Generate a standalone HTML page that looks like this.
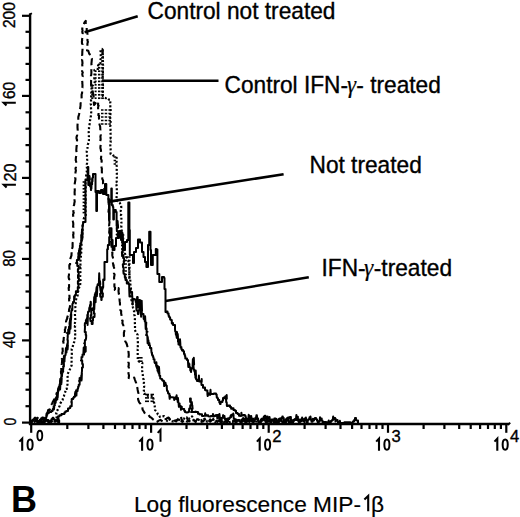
<!DOCTYPE html>
<html><head><meta charset="utf-8"><style>
html,body{margin:0;padding:0;background:#fff;width:520px;height:517px;overflow:hidden}
svg{display:block}
text{font-family:"Liberation Sans",sans-serif;fill:#000}
</style></head><body>
<svg width="520" height="517" viewBox="0 0 520 517">
<rect width="520" height="517" fill="#fff"/>
<line x1="30.1" y1="13.5" x2="30.1" y2="425.0" stroke="#000" stroke-width="2.4" />
<line x1="28.9" y1="424.0" x2="509.0" y2="424.0" stroke="#000" stroke-width="2.6" />
<line x1="29.6" y1="14.6" x2="31.9" y2="13.2" stroke="#000" stroke-width="1.8" />
<line x1="508.2" y1="424.8" x2="510.2" y2="422.6" stroke="#000" stroke-width="1.8" />
<line x1="22.0" y1="422.6" x2="30.1" y2="422.6" stroke="#000" stroke-width="2.2" />
<line x1="25.5" y1="406.2" x2="30.1" y2="406.2" stroke="#000" stroke-width="2.2" />
<line x1="25.5" y1="389.7" x2="30.1" y2="389.7" stroke="#000" stroke-width="2.2" />
<line x1="25.5" y1="373.3" x2="30.1" y2="373.3" stroke="#000" stroke-width="2.2" />
<line x1="25.5" y1="356.8" x2="30.1" y2="356.8" stroke="#000" stroke-width="2.2" />
<line x1="22.0" y1="340.4" x2="30.1" y2="340.4" stroke="#000" stroke-width="2.2" />
<line x1="25.5" y1="324.1" x2="30.1" y2="324.1" stroke="#000" stroke-width="2.2" />
<line x1="25.5" y1="307.8" x2="30.1" y2="307.8" stroke="#000" stroke-width="2.2" />
<line x1="25.5" y1="291.5" x2="30.1" y2="291.5" stroke="#000" stroke-width="2.2" />
<line x1="25.5" y1="275.2" x2="30.1" y2="275.2" stroke="#000" stroke-width="2.2" />
<line x1="22.0" y1="258.9" x2="30.1" y2="258.9" stroke="#000" stroke-width="2.2" />
<line x1="25.5" y1="242.7" x2="30.1" y2="242.7" stroke="#000" stroke-width="2.2" />
<line x1="25.5" y1="226.5" x2="30.1" y2="226.5" stroke="#000" stroke-width="2.2" />
<line x1="25.5" y1="210.3" x2="30.1" y2="210.3" stroke="#000" stroke-width="2.2" />
<line x1="25.5" y1="194.1" x2="30.1" y2="194.1" stroke="#000" stroke-width="2.2" />
<line x1="22.0" y1="177.9" x2="30.1" y2="177.9" stroke="#000" stroke-width="2.2" />
<line x1="25.5" y1="161.5" x2="30.1" y2="161.5" stroke="#000" stroke-width="2.2" />
<line x1="25.5" y1="145.1" x2="30.1" y2="145.1" stroke="#000" stroke-width="2.2" />
<line x1="25.5" y1="128.7" x2="30.1" y2="128.7" stroke="#000" stroke-width="2.2" />
<line x1="25.5" y1="112.3" x2="30.1" y2="112.3" stroke="#000" stroke-width="2.2" />
<line x1="22.0" y1="95.9" x2="30.1" y2="95.9" stroke="#000" stroke-width="2.2" />
<line x1="25.5" y1="79.9" x2="30.1" y2="79.9" stroke="#000" stroke-width="2.2" />
<line x1="25.5" y1="63.9" x2="30.1" y2="63.9" stroke="#000" stroke-width="2.2" />
<line x1="25.5" y1="47.8" x2="30.1" y2="47.8" stroke="#000" stroke-width="2.2" />
<line x1="25.5" y1="31.8" x2="30.1" y2="31.8" stroke="#000" stroke-width="2.2" />
<line x1="22.0" y1="15.8" x2="30.1" y2="15.8" stroke="#000" stroke-width="2.2" />
<line x1="31.2" y1="424.0" x2="31.2" y2="432.8" stroke="#000" stroke-width="2.2" />
<line x1="67.3" y1="424.0" x2="67.3" y2="429.0" stroke="#000" stroke-width="2.2" />
<line x1="88.4" y1="424.0" x2="88.4" y2="429.0" stroke="#000" stroke-width="2.2" />
<line x1="103.4" y1="424.0" x2="103.4" y2="429.0" stroke="#000" stroke-width="2.2" />
<line x1="115.0" y1="424.0" x2="115.0" y2="429.0" stroke="#000" stroke-width="2.2" />
<line x1="124.5" y1="424.0" x2="124.5" y2="429.0" stroke="#000" stroke-width="2.2" />
<line x1="132.5" y1="424.0" x2="132.5" y2="429.0" stroke="#000" stroke-width="2.2" />
<line x1="139.5" y1="424.0" x2="139.5" y2="429.0" stroke="#000" stroke-width="2.2" />
<line x1="145.6" y1="424.0" x2="145.6" y2="429.0" stroke="#000" stroke-width="2.2" />
<line x1="151.1" y1="424.0" x2="151.1" y2="432.8" stroke="#000" stroke-width="2.2" />
<line x1="186.5" y1="424.0" x2="186.5" y2="429.0" stroke="#000" stroke-width="2.2" />
<line x1="207.2" y1="424.0" x2="207.2" y2="429.0" stroke="#000" stroke-width="2.2" />
<line x1="221.9" y1="424.0" x2="221.9" y2="429.0" stroke="#000" stroke-width="2.2" />
<line x1="233.3" y1="424.0" x2="233.3" y2="429.0" stroke="#000" stroke-width="2.2" />
<line x1="242.6" y1="424.0" x2="242.6" y2="429.0" stroke="#000" stroke-width="2.2" />
<line x1="250.5" y1="424.0" x2="250.5" y2="429.0" stroke="#000" stroke-width="2.2" />
<line x1="257.3" y1="424.0" x2="257.3" y2="429.0" stroke="#000" stroke-width="2.2" />
<line x1="263.3" y1="424.0" x2="263.3" y2="429.0" stroke="#000" stroke-width="2.2" />
<line x1="268.7" y1="424.0" x2="268.7" y2="432.8" stroke="#000" stroke-width="2.2" />
<line x1="304.6" y1="424.0" x2="304.6" y2="429.0" stroke="#000" stroke-width="2.2" />
<line x1="325.6" y1="424.0" x2="325.6" y2="429.0" stroke="#000" stroke-width="2.2" />
<line x1="340.5" y1="424.0" x2="340.5" y2="429.0" stroke="#000" stroke-width="2.2" />
<line x1="352.1" y1="424.0" x2="352.1" y2="429.0" stroke="#000" stroke-width="2.2" />
<line x1="361.5" y1="424.0" x2="361.5" y2="429.0" stroke="#000" stroke-width="2.2" />
<line x1="369.5" y1="424.0" x2="369.5" y2="429.0" stroke="#000" stroke-width="2.2" />
<line x1="376.4" y1="424.0" x2="376.4" y2="429.0" stroke="#000" stroke-width="2.2" />
<line x1="382.5" y1="424.0" x2="382.5" y2="429.0" stroke="#000" stroke-width="2.2" />
<line x1="388.0" y1="424.0" x2="388.0" y2="432.8" stroke="#000" stroke-width="2.2" />
<line x1="423.6" y1="424.0" x2="423.6" y2="429.0" stroke="#000" stroke-width="2.2" />
<line x1="444.4" y1="424.0" x2="444.4" y2="429.0" stroke="#000" stroke-width="2.2" />
<line x1="459.2" y1="424.0" x2="459.2" y2="429.0" stroke="#000" stroke-width="2.2" />
<line x1="470.7" y1="424.0" x2="470.7" y2="429.0" stroke="#000" stroke-width="2.2" />
<line x1="480.1" y1="424.0" x2="480.1" y2="429.0" stroke="#000" stroke-width="2.2" />
<line x1="488.0" y1="424.0" x2="488.0" y2="429.0" stroke="#000" stroke-width="2.2" />
<line x1="494.8" y1="424.0" x2="494.8" y2="429.0" stroke="#000" stroke-width="2.2" />
<line x1="500.9" y1="424.0" x2="500.9" y2="429.0" stroke="#000" stroke-width="2.2" />
<line x1="506.3" y1="424.0" x2="506.3" y2="432.8" stroke="#000" stroke-width="2.2" />
<text transform="translate(15.44,28.08) rotate(-90) scale(0.973,1.030)" font-size="16" stroke="#000" stroke-width="0.35">200</text>
<text transform="translate(15.43,99.08) rotate(-90) scale(0.974,1.056)" font-size="16" stroke="#000" stroke-width="0.35">60</text>
<path d="M15.8,102.7 H3.7 L6.5,105.5" fill="none" stroke="#000" stroke-width="2.1"/>
<text transform="translate(15.53,181.61) rotate(-90) scale(1.017,1.056)" font-size="16" stroke="#000" stroke-width="0.35">20</text>
<path d="M15.9,184.8 H3.8 L6.6,187.6" fill="none" stroke="#000" stroke-width="2.1"/>
<text transform="translate(15.33,266.80) rotate(-90) scale(0.941,1.065)" font-size="16" stroke="#000" stroke-width="0.35">80</text>
<text transform="translate(15.33,348.31) rotate(-90) scale(0.958,1.065)" font-size="16" stroke="#000" stroke-width="0.35">40</text>
<text transform="translate(15.63,425.46) rotate(-90) scale(0.872,1.039)" font-size="16" stroke="#000" stroke-width="0.35">0</text>
<path d="M22.2,450.8 V438.6 L19.4,441.6" fill="none" stroke="#000" stroke-width="2.1" stroke-linejoin="miter"/>
<ellipse cx="30.1" cy="444.6" rx="2.55" ry="5.2" fill="none" stroke="#000" stroke-width="2.0"/>
<ellipse cx="39.8" cy="435.6" rx="2.45" ry="4.8" fill="none" stroke="#000" stroke-width="1.9"/>
<path d="M142.1,450.8 V438.6 L139.3,441.6" fill="none" stroke="#000" stroke-width="2.1" stroke-linejoin="miter"/>
<ellipse cx="150.0" cy="444.6" rx="2.55" ry="5.2" fill="none" stroke="#000" stroke-width="2.0"/>
<path d="M160.5,441.8 V429.9 L157.7,432.9" fill="none" stroke="#000" stroke-width="2.0" stroke-linejoin="miter"/>
<path d="M259.7,450.8 V438.6 L256.9,441.6" fill="none" stroke="#000" stroke-width="2.1" stroke-linejoin="miter"/>
<ellipse cx="267.6" cy="444.6" rx="2.55" ry="5.2" fill="none" stroke="#000" stroke-width="2.0"/>
<text x="272.3" y="442" font-size="16.6" stroke="#000" stroke-width="0.35">2</text>
<path d="M379.0,450.8 V438.6 L376.2,441.6" fill="none" stroke="#000" stroke-width="2.1" stroke-linejoin="miter"/>
<ellipse cx="386.9" cy="444.6" rx="2.55" ry="5.2" fill="none" stroke="#000" stroke-width="2.0"/>
<text x="391.6" y="442" font-size="16.6" stroke="#000" stroke-width="0.35">3</text>
<path d="M497.3,450.8 V438.6 L494.5,441.6" fill="none" stroke="#000" stroke-width="2.1" stroke-linejoin="miter"/>
<ellipse cx="505.2" cy="444.6" rx="2.55" ry="5.2" fill="none" stroke="#000" stroke-width="2.0"/>
<text x="509.9" y="442" font-size="16.6" stroke="#000" stroke-width="0.35">4</text>
<text transform="translate(147.5,19) scale(1,1.07)" font-size="22.7" stroke="#000" stroke-width="0.35" >Control not treated</text>
<text transform="translate(224.5,92.5) scale(1,1.07)" font-size="22.7" stroke="#000" stroke-width="0.35" >Control IFN-<tspan font-family="Liberation Serif" font-style="italic" stroke-width="0.2" x="122.6" font-size="23">γ</tspan><tspan x="131.8">- treated</tspan></text>
<text transform="translate(309.5,173) scale(1,1.07)" font-size="22.7" stroke="#000" stroke-width="0.35" >Not treated</text>
<text transform="translate(321.5,276) scale(1,1.07)" font-size="22.7" stroke="#000" stroke-width="0.35" >IFN-<tspan font-family="Liberation Serif" font-style="italic" stroke-width="0.2" x="42.6" font-size="23.5">γ</tspan><tspan x="52.3">-treated</tspan></text>
<text transform="translate(134,511.5) scale(1,1.0)" font-size="22.7" stroke="#000" stroke-width="0.2" >Log fluorescence MIP-</text>
<path d="M368.2,511.3 V495.9 L364.4,499.6" fill="none" stroke="#000" stroke-width="2.1"/>
<text transform="translate(370.9,511.5) scale(1,1.0)" font-size="22.7" stroke="#000" stroke-width="0.2" >β</text>
<text x="11.1" y="512.4" font-size="36" font-weight="bold">B</text>
<line x1="84.6" y1="32.3" x2="137.7" y2="16.3" stroke="#000" stroke-width="2.6" />
<line x1="101.8" y1="80.8" x2="218.5" y2="80.8" stroke="#000" stroke-width="2.4" />
<line x1="109.3" y1="201.6" x2="283.6" y2="174.2" stroke="#000" stroke-width="2.6" />
<line x1="165.5" y1="301.0" x2="308.8" y2="277.2" stroke="#000" stroke-width="2.6" />
<polyline points="30.5,422.6 31.2,422.6 31.2,421.7 32.3,421.7 32.3,420.0 33.7,420.0 33.7,419.1 34.6,419.1 34.6,417.8 35.9,417.8 35.9,419.6 37.1,419.6 37.1,420.6 37.4,422.2 37.7,420.8 38.0,422.0 39.3,422.0 39.3,421.0 40.4,421.0 40.4,420.5 41.2,420.5 41.2,418.3 42.3,418.3 42.3,417.6 43.1,417.6 43.1,419.3 43.7,419.3 43.7,421.1 44.0,423.3 44.3,420.6 44.2,422.0 44.9,422.0 44.9,421.1 45.5,421.1 45.5,418.4 45.8,417.9 46.3,417.9 46.3,415.3 46.6,413.5 46.9,416.0 47.0,414.4 47.4,414.4 47.4,413.0 49.0,413.0 49.0,412.2 50.1,412.1 51.3,412.1 51.3,411.0 52.6,411.0 52.6,409.6 53.0,409.6 53.0,408.8 53.6,408.8 53.6,406.4 53.9,409.5 54.2,407.2 54.3,405.1 54.6,400.6 54.9,405.2 54.4,405.2 54.4,403.6 55.1,403.6 55.1,401.8 55.4,398.4 55.7,402.6 55.6,401.0 56.0,401.0 56.0,399.0 56.1,397.3 56.9,397.3 56.9,395.4 57.0,395.4 57.3,399.5 57.6,395.4 57.4,393.9 57.7,397.4 58.0,392.2 57.9,390.4 58.2,388.3 58.5,391.0 58.2,390.0 58.4,389.5 58.7,387.0 59.2,387.0 59.2,386.1 59.8,386.1 59.8,384.3 60.1,389.4 60.4,384.1 60.2,381.7 60.2,381.3 60.5,379.9 61.1,379.9 61.1,377.2 61.4,383.9 61.7,378.7 61.4,375.5 61.7,372.9 62.0,376.2 62.0,375.0 62.2,373.6 62.6,372.2 62.9,368.4 63.2,371.6 62.9,371.2 63.0,370.7 63.4,367.4 63.1,366.4 63.9,366.4 63.9,363.4 63.6,364.2 63.9,356.1 64.2,361.9 63.8,361.4 64.5,361.4 64.5,359.9 64.6,358.9 64.8,357.0 64.8,356.8 65.2,354.9 65.6,354.9 65.6,353.4 65.9,348.4 66.2,352.0 65.7,352.0 65.7,352.4 66.5,352.4 66.5,349.8 66.3,347.4 67.0,347.4 67.0,345.0 67.3,344.5 67.6,349.4 67.9,345.1 67.4,345.1 67.4,343.5 67.8,343.5 67.8,340.0 67.4,340.0 67.8,336.6 67.6,336.6 68.0,333.1 66.9,333.1 68.2,333.1 68.2,329.6 69.0,329.6 69.0,326.7 69.3,333.5 69.6,329.3 69.7,324.6 69.5,324.0 69.7,321.9 69.9,321.7 70.2,318.5 70.5,328.7 70.8,320.5 70.7,318.1 70.8,317.0 70.7,314.7 71.0,319.9 71.3,314.7 71.1,313.6 71.4,310.7 71.6,311.2 71.9,309.0 72.3,310.1 72.4,306.9 72.4,304.0 72.6,303.5 73.0,303.5 73.0,301.9 73.5,302.1 74.1,302.1 74.1,296.2 74.7,296.2 74.7,297.3 75.0,295.0 75.9,295.0 75.9,291.2 76.8,291.2 76.8,292.1 77.8,292.1 77.8,290.0 77.8,287.0 78.5,287.0 78.5,284.0 77.9,284.0 77.9,281.0 78.9,281.0 78.9,278.0 78.0,278.0 78.0,275.0 78.7,275.0 78.7,272.0 77.9,272.0 77.9,269.0 78.7,269.0 78.7,266.0 77.3,266.0 77.3,263.0 76.0,263.0 76.9,263.0 76.9,260.0 77.8,260.0 78.2,260.0 78.2,256.5 78.6,257.8 78.3,253.0 79.0,253.0 79.0,251.5 79.0,250.6 79.3,259.4 79.6,252.0 79.3,250.0 79.5,248.5 80.1,248.5 80.1,248.0 79.9,245.7 80.2,254.8 80.5,244.5 80.2,243.9 80.6,243.9 80.6,243.3 80.6,242.9 81.3,242.9 81.3,236.1 81.3,237.0 81.2,235.1 81.8,235.1 81.8,232.2 82.1,240.0 82.4,234.8 81.9,234.8 81.9,231.8 82.0,229.4 82.3,239.4 82.6,232.7 82.4,231.3 82.6,227.7 82.8,224.5 82.6,225.5 82.9,225.4 83.2,222.0 85.5,222.0 85.5,180.0 87.5,180.0 87.8,167.0 88.3,167.0 88.3,185.0 89.5,185.0 89.5,176.0 89.9,179.5 88.9,179.5 89.2,183.0 89.7,183.0 90.1,186.5 90.4,186.5 90.9,186.5 90.9,190.0 91.0,190.0 91.2,188.7 91.4,188.7 91.6,182.2 91.7,184.2 92.1,184.2 92.1,183.6 92.1,178.7 92.5,181.3 92.5,177.8 93.0,177.8 93.0,174.2 93.0,174.0 95.0,174.0 95.5,174.0 95.5,192.0 96.3,192.0 96.3,211.0 97.0,211.0 97.0,191.0 99.0,191.0 99.0,193.0 101.0,193.0 101.0,190.0 103.0,190.0 103.0,194.0 105.0,194.0 105.0,184.0 106.3,184.0 106.3,195.0 108.4,195.0 108.4,199.0 109.0,199.0 109.0,219.5 109.6,219.5 109.6,201.0 110.8,201.0 110.8,200.0 111.3,200.0 111.3,188.5 111.8,188.5 111.8,205.0 112.8,205.0 112.8,207.0 113.3,207.0 113.3,219.5 113.9,219.5 113.9,210.0 115.8,210.0 115.8,212.0 116.6,212.0 116.6,226.0 117.0,224.1 117.1,224.0 117.6,224.0 117.6,221.0 117.8,224.4 117.9,224.4 118.1,227.8 116.7,227.8 116.9,231.2 118.0,231.2 118.2,234.6 116.6,234.6 117.7,234.6 117.7,238.0 118.6,238.0 119.0,237.9 119.2,233.9 119.1,230.9 119.6,231.0 121.7,231.0 121.7,232.0 121.7,235.6 122.4,235.6 122.4,232.7 122.3,234.2 122.9,234.2 122.9,238.9 123.0,240.0 123.2,243.0 122.5,243.0 122.7,246.0 122.9,246.0 123.0,249.0 122.5,249.0 122.7,252.0 121.9,252.0 122.1,255.0 122.0,255.0 123.1,255.0 123.1,258.0 124.0,258.0 124.3,261.1 123.7,261.1 124.0,264.3 122.8,264.3 123.1,267.4 123.5,267.4 123.8,270.6 123.3,270.6 123.6,273.7 124.6,273.7 124.9,276.9 124.7,276.9 125.5,276.9 125.5,280.0 126.0,280.0 126.8,280.0 126.8,283.5 127.2,283.5 127.2,282.3 128.1,282.3 128.1,282.7 128.5,282.7 128.5,283.9 129.2,283.9 129.2,288.7 129.5,296.5 129.8,288.8 130.0,289.7 130.4,289.7 130.4,291.9 131.0,292.0 131.5,292.1 132.1,292.1 132.1,294.9 132.3,296.4 132.6,304.4 132.9,298.7 133.0,299.0 134.3,299.0 134.3,299.6 135.7,299.6 135.7,302.0 136.1,302.2 137.1,302.2 137.1,296.9 137.4,307.6 137.7,297.2 137.5,297.0 137.7,300.4 136.7,300.4 136.9,303.8 136.1,303.8 136.3,307.2 136.3,307.2 136.5,310.6 137.2,310.6 137.9,310.6 137.9,314.0 138.5,314.0 138.9,310.5 139.2,310.5 139.6,307.0 138.7,307.0 139.0,303.5 138.0,303.5 139.2,303.5 139.2,300.0 140.0,300.0 140.1,303.2 140.4,309.1 140.7,301.7 140.6,302.7 140.9,305.9 140.6,305.8 140.8,308.8 141.1,316.7 141.4,308.8 141.4,310.7 141.7,300.8 142.0,310.8 141.4,310.5 141.8,310.5 141.8,313.7 141.8,314.0 143.5,314.0 143.5,316.0 143.7,318.9 144.1,318.9 144.1,319.5 144.8,319.5 144.8,321.6 145.1,316.2 145.4,321.7 145.4,322.1 145.7,328.9 146.0,323.3 145.7,322.4 146.0,327.8 146.3,322.5 146.0,325.0 146.0,328.3 146.6,328.3 146.6,331.7 147.5,331.7 146.7,331.7 146.7,335.0 146.0,335.0 147.0,335.0 147.0,335.5 147.3,336.0 147.6,343.2 147.9,338.1 147.6,336.9 148.0,341.0 148.4,341.0 148.4,340.2 148.8,345.1 149.4,345.1 149.4,343.0 149.6,345.4 150.0,345.4 150.0,348.0 150.5,347.9 151.3,347.9 151.3,350.4 151.6,352.8 152.0,352.8 152.0,355.0 152.6,355.0 152.6,356.0 153.1,356.0 153.1,357.3 153.5,357.3 153.5,359.2 154.5,359.2 154.5,362.2 154.8,363.0 155.4,363.3 156.1,363.3 156.1,366.1 156.4,362.3 156.7,367.3 157.0,368.0 157.5,368.0 157.5,370.8 157.8,366.1 158.1,369.4 158.1,372.1 158.7,372.1 158.7,373.5 159.0,366.9 159.3,372.3 158.8,372.6 159.4,372.6 159.4,375.7 160.2,375.7 160.2,378.6 161.3,378.9 162.0,378.9 162.0,380.0 162.6,380.0 162.6,380.8 163.9,380.8 163.9,382.1 164.2,386.1 164.5,382.0 164.5,383.0 165.6,383.0 165.6,385.0 166.2,385.0 166.2,385.7 166.8,385.7 166.8,388.2 167.1,390.9 167.9,391.2 168.1,393.3 168.7,393.3 168.7,393.8 169.4,393.8 169.4,396.3 169.7,398.8 170.0,395.4 170.0,397.0 172.1,397.2 173.9,397.5 174.2,400.0 174.5,397.8 175.8,397.8 175.8,397.0 176.3,397.0 176.3,399.3 176.6,395.3 176.9,398.0 177.1,399.2 177.7,399.2 177.7,402.0 178.0,398.1 178.3,402.3 178.6,403.3 178.9,406.8 179.2,403.5 178.8,403.4 179.6,403.4 179.6,406.0 180.7,406.0 180.7,407.2 181.0,409.8 181.3,406.8 181.8,406.8 181.8,408.7 182.6,408.9 184.2,408.9 184.2,410.7 185.0,410.7 185.0,412.0 186.9,412.4 189.0,412.0 189.2,408.6 190.1,408.6 190.3,405.2 191.1,405.2 191.4,401.9 191.3,401.9 190.8,401.9 190.8,398.5 190.0,398.5 190.2,401.9 191.8,401.9 192.1,405.2 192.3,405.2 192.6,408.6 192.6,408.6 191.9,408.6 191.9,412.0 191.0,412.0 192.4,412.1 194.2,412.0 195.5,412.0 195.5,411.6 197.0,412.0 198.0,412.0 198.0,413.8 199.6,413.8 199.6,414.5 200.6,414.2 202.0,414.2 202.0,416.0 203.3,416.0 204.9,415.6 205.2,413.3 205.5,415.7 206.4,415.7 206.4,415.2 208.2,415.2 208.2,416.3 209.7,416.5 210.8,416.5 210.8,416.1 212.7,416.1 213.0,414.0 213.3,416.6 214.0,416.6 214.0,416.0 215.3,416.0 215.3,415.3 217.0,415.1 217.3,418.5 217.6,415.1 218.7,414.9 219.1,416.1 219.4,413.9 219.7,416.1 219.2,416.1 219.2,418.3 220.0,418.3 220.0,419.7 220.3,417.5 220.6,419.1 220.0,419.1 220.0,420.5 220.3,418.7 220.6,421.3 220.4,422.2 221.3,422.2 221.3,420.5 221.7,420.5 221.7,419.0 222.0,417.7 222.9,417.7 222.9,416.3 223.2,415.1 223.6,415.9 224.5,415.9 224.5,418.4 225.0,418.4 225.0,419.2 225.8,419.2 225.8,420.5 226.2,420.5 226.2,422.5 227.2,422.5 227.2,421.7 228.0,421.7 228.0,419.3 229.2,419.3 229.2,417.8 230.4,417.8 230.4,417.2 230.7,415.4 231.0,417.1 231.1,415.1 232.1,415.1 232.1,414.4 233.0,414.4 233.0,415.9 233.3,413.6 233.6,415.4 233.5,416.6 233.8,418.7 234.7,418.7 234.7,419.9 235.0,421.9 236.5,421.9 236.5,420.8 238.0,420.8 238.0,420.1 239.4,420.1 239.4,421.3 240.6,421.3 240.6,422.5 241.7,422.5 241.7,421.6 242.8,421.6 242.8,419.7 243.8,419.7 243.8,419.0 244.8,419.0 244.8,420.4 245.1,422.2 245.4,420.8 245.4,422.0 246.6,422.0 246.6,420.1 247.4,420.1 247.4,419.1 248.4,419.1 248.4,417.9 248.7,414.8 249.0,417.0 249.4,417.0 249.4,415.9 249.9,415.9 249.9,417.4 250.2,420.4 250.5,417.7 250.9,417.7 250.9,418.9 251.2,415.9 251.5,418.9 251.5,419.8 252.0,419.8 252.0,421.8 253.0,421.8 253.0,420.9 253.3,423.2 253.6,421.0 254.3,421.0 254.3,419.7 255.2,419.7 255.2,417.9 256.3,417.9 256.3,417.1 257.1,417.1 257.1,419.0 257.9,419.0 257.9,420.5 258.7,420.5 258.7,422.3 260.0,422.3 260.0,421.6 260.9,421.6 260.9,419.8 262.1,419.8 262.1,418.4 263.8,418.4 263.8,416.5 264.1,420.2 264.4,416.9 264.7,415.7 265.4,415.7 265.4,416.5 266.1,416.5 266.1,419.1 267.3,419.1 267.3,419.9 268.0,419.9 268.0,421.8 269.8,421.8 269.8,420.6 271.6,420.6 271.6,419.6 272.9,419.6 272.9,420.8 273.7,420.8 273.7,422.5 275.3,422.5 275.3,421.0 276.2,421.0 276.2,420.1 277.5,420.4 278.9,420.4 278.9,419.0 280.0,419.0 280.0,420.0 281.0,420.0 281.0,420.9 282.1,420.9 282.1,422.1 283.5,422.1 283.5,421.5 283.8,422.9 284.1,421.5 284.5,420.4 285.8,420.4 285.8,419.3 286.9,419.3 286.9,418.2 287.2,420.2 287.5,417.8 288.0,417.8 288.0,417.4 288.6,417.4 288.6,418.7 288.7,420.8 289.0,422.8 289.3,420.9 289.5,422.3 290.8,422.0 291.1,420.1 291.4,421.4 292.5,421.3 293.5,421.3 293.5,419.8 295.2,419.8 295.2,419.1 296.1,419.1 296.1,419.9 297.7,419.9 297.7,420.5 298.7,420.5 298.7,422.1 300.1,422.1 300.1,419.8 301.5,419.8 301.5,418.9 302.3,418.9 302.3,419.3 303.5,419.3 303.5,421.2 304.6,421.2 304.6,422.3" fill="none" stroke="#000" stroke-width="2.0" stroke-linejoin="round" stroke-linecap="square"/>
<polyline points="30.5,422.6 31.7,422.6 31.7,420.7 33.3,420.7 33.3,419.4 35.2,419.4 35.2,420.1 36.8,420.1 36.8,421.7 38.1,421.7 38.1,421.0 39.7,421.0 39.7,419.8 40.5,419.8 40.5,421.6 41.5,421.6 41.5,422.5 43.1,422.5 43.1,421.5 44.8,421.5 44.8,420.9 45.1,418.5 45.4,420.3 46.7,420.1 48.2,420.1 48.2,421.3 49.4,421.3 49.4,422.1 50.2,422.1 50.2,420.7 51.4,420.7 51.4,419.3 51.7,421.0 52.0,418.7 52.6,418.7 52.6,417.7 53.4,417.7 53.4,419.1 54.4,419.1 54.4,421.8 55.7,421.8 55.7,420.4 57.3,420.4 57.3,419.0 58.1,419.0 58.1,421.0 58.4,422.3 58.7,420.5 59.2,420.5 59.2,422.3 58.9,420.7 58.5,418.4 57.8,418.4 57.8,416.5 59.4,416.5 59.4,415.3 61.5,415.3 61.5,414.1 63.0,414.0 64.4,414.0 64.4,412.6 65.3,412.6 65.3,411.6 66.5,411.6 66.5,411.0 68.0,411.0 68.0,408.6 69.3,408.6 69.3,408.0 70.2,408.0 70.2,406.2 71.7,406.2 71.7,405.0 71.8,402.0 71.2,402.0 71.7,402.0 71.7,399.0 72.0,399.0 73.2,399.0 73.2,397.7 73.9,397.7 73.9,396.7 75.0,396.7 75.0,394.0 75.4,391.8 76.1,391.8 76.1,390.2 76.4,395.6 76.7,390.2 76.9,391.0 77.6,391.0 77.6,388.8 78.1,388.8 78.1,386.8 78.7,386.8 78.7,384.8 79.6,384.8 79.6,384.0 79.8,381.0 79.0,381.0 79.6,381.0 79.6,378.0 80.0,378.0 80.3,377.6 81.3,377.6 81.3,375.2 81.6,380.4 81.9,373.4 81.7,373.4 82.0,371.0 82.0,367.5 82.9,367.5 82.9,364.0 82.2,364.0 82.2,360.5 80.9,360.5 81.5,360.5 81.5,357.0 82.0,357.0 82.5,357.0 82.5,354.5 83.4,354.5 83.4,353.2 83.7,347.5 84.0,354.6 84.2,352.3 84.8,352.3 84.8,351.5 85.7,351.5 85.7,350.0 85.7,346.7 84.9,346.7 84.9,343.3 84.1,343.3 84.9,343.3 84.9,340.0 85.7,340.0 86.1,338.0 86.2,335.0 85.7,335.0 85.8,332.0 84.7,332.0 84.9,329.0 84.9,329.0 85.0,326.0 84.8,326.0 84.9,323.0 84.9,323.0 85.9,323.0 85.9,320.0 86.8,320.0 86.8,318.2 87.1,323.2 87.4,319.3 87.3,315.2 87.6,325.0 87.9,315.9 87.5,314.7 87.9,314.6 88.0,312.0 88.4,311.4 89.2,311.4 89.2,308.8 89.5,307.3 90.0,307.3 90.0,305.0 90.6,305.0 90.6,301.8 90.8,302.0 90.9,305.3 90.5,305.3 90.7,308.7 91.2,308.7 91.3,312.0 91.2,312.0 91.5,315.0 90.7,315.0 91.0,318.0 90.1,318.0 90.5,321.0 90.5,321.0 91.7,321.0 91.7,324.0 92.6,324.0 92.7,320.5 93.0,320.5 93.1,317.0 94.5,317.0 94.6,313.5 94.7,313.5 93.9,313.5 93.9,310.0 93.0,310.0 93.0,308.1 93.5,308.1 93.5,309.0 93.9,309.0 93.9,304.4 94.2,297.0 94.5,305.0 93.8,305.0 93.8,303.6 94.2,303.6 94.2,304.1 94.0,302.3 94.3,309.3 94.6,300.2 94.3,300.7 94.9,300.7 94.9,298.9 94.8,294.8 95.0,295.0 95.3,293.1 95.6,302.3 95.9,292.0 96.2,292.0 96.4,289.1 96.7,287.0 97.0,295.9 97.3,286.4 97.7,284.3 98.0,285.0 98.9,285.0 98.9,282.6 99.2,273.2 99.5,281.2 100.0,281.0 100.3,284.2 99.8,284.2 100.1,287.3 100.2,287.3 100.5,290.5 100.7,290.5 101.0,293.7 100.1,293.7 100.3,296.8 100.7,296.8 101.3,296.8 101.3,300.0 101.6,300.0 101.7,296.7 102.8,296.7 102.9,293.3 102.1,293.3 102.1,290.0 102.0,290.0 102.1,287.1 102.8,287.1 102.8,288.8 102.6,287.2 103.2,287.2 103.2,282.2 103.2,279.5 103.8,279.5 103.8,280.0 104.5,280.0 104.5,262.0 107.2,262.0 107.2,249.3 107.9,249.3 107.9,245.0 109.2,245.0 109.2,237.0 110.0,237.0 110.0,233.0 109.4,233.0 109.4,228.3 111.5,228.3 111.5,240.0 112.6,240.0 112.6,250.0 114.5,250.0 114.5,246.0 116.0,246.0 116.0,238.0 118.7,238.0 118.7,233.0 121.0,233.0 121.0,240.0 123.0,240.0 123.0,250.0 125.0,250.0 125.0,242.0 127.0,242.0 127.0,240.0 128.3,240.0 128.3,202.5 129.4,202.5 129.4,230.0 129.8,230.0 129.8,255.0 131.0,255.0 133.0,255.0 133.0,263.0 134.0,263.0 134.0,252.0 136.0,252.0 136.0,248.0 138.0,248.0 138.0,239.5 140.0,239.5 140.0,242.6 142.0,242.6 142.0,252.0 143.5,252.0 143.5,257.0 145.0,257.0 145.0,262.0 146.4,262.0 146.4,267.0 148.0,267.0 148.0,245.0 149.2,245.0 149.2,231.8 150.5,231.8 150.5,250.0 151.0,250.0 151.0,265.0 152.8,265.0 152.8,255.0 155.8,255.0 155.8,249.0 156.5,249.0 156.5,249.6 157.4,249.6 157.4,274.0 159.3,274.0 159.3,282.0 162.0,282.0 162.0,277.0 164.0,277.0 164.0,278.0 164.5,278.0 164.5,289.0 165.5,289.0 165.5,312.0 166.5,312.0 166.5,311.4 167.5,311.4 167.5,313.6 168.6,313.6 168.6,316.0 169.2,316.0 169.2,317.3 170.1,317.3 170.1,319.4 171.0,319.4 171.0,320.0 171.8,320.0 171.8,323.5 172.3,323.5 172.3,322.9 173.0,322.9 173.0,325.0 174.2,324.9 175.0,324.9 175.0,329.0 175.2,331.5 175.8,331.5 175.8,334.2 176.2,334.2 176.2,333.0 176.2,335.7 176.7,335.7 176.7,337.7 177.0,332.1 177.3,337.1 177.4,338.1 177.7,333.9 178.0,337.5 177.3,337.5 177.3,338.3 178.0,338.3 178.0,341.7 178.5,341.7 178.5,344.4 179.7,344.4 179.7,345.1 180.0,339.2 180.3,343.1 180.5,347.5 181.0,347.5 181.0,347.0 181.4,347.0 181.4,349.2 182.0,349.2 182.0,350.5 183.1,350.5 183.1,350.0 183.3,351.3 184.0,351.3 184.0,354.0 184.8,354.0 184.8,356.0 185.3,356.0 185.3,358.4 186.5,358.5 187.0,358.5 187.0,360.0 188.0,360.0 188.0,361.9 188.3,367.0 188.6,362.9 189.0,364.0 189.4,364.0 189.4,365.7 189.5,367.3 190.2,367.3 190.3,370.5 191.0,370.5 191.0,372.0 191.2,370.7 191.5,368.8 191.7,367.9 192.6,367.9 192.6,365.7 192.9,359.0 193.2,366.5 192.9,363.7 193.0,362.0 193.5,362.0 193.5,362.9 193.8,357.7 194.1,364.5 193.5,364.5 193.5,366.5 193.6,367.4 193.7,369.5 194.2,369.5 194.2,371.1 194.7,371.1 194.7,371.9 195.0,372.2 195.0,375.0 195.4,375.0 195.4,377.7 195.7,370.4 196.0,375.8 195.9,378.4 196.2,379.4 197.0,379.4 197.0,381.0 198.6,381.0 198.6,379.9 198.9,375.6 199.2,381.5 200.4,381.2 201.7,381.2 201.7,379.0 201.7,382.0 201.3,382.0 201.5,385.0 201.7,385.0 203.0,385.0 203.0,387.7 204.2,387.5 205.0,387.5 205.0,390.0 206.0,390.0 206.0,390.6 207.4,390.6 207.4,394.0 207.7,396.1 208.0,393.3 208.5,393.3 208.5,394.6 210.2,394.8 210.5,389.8 210.8,394.0 212.0,394.0 213.9,394.0 213.9,393.4 216.0,393.4 216.0,394.6 216.7,394.6 216.7,397.2 217.3,397.2 217.3,398.2 218.0,398.2 218.0,400.0 219.3,400.0 219.3,402.5 220.0,402.5 220.0,404.0 220.6,404.0 220.6,402.0 221.7,401.9 222.4,401.9 222.4,400.6 223.0,400.6 223.0,398.0 224.2,398.0 224.2,397.3 225.4,397.3 225.4,396.2 225.7,399.5 226.0,396.3 226.7,396.3 226.7,395.0 226.8,398.7 226.1,398.7 226.2,402.3 226.7,402.3 226.9,406.0 227.0,406.0 228.2,406.0 228.2,405.4 230.0,405.4 230.0,407.0 231.1,407.0 231.1,408.8 232.3,408.8 232.3,408.2 233.5,408.2 233.5,410.0 235.0,410.0 235.0,410.7 236.0,410.7 236.0,413.0 237.6,413.0 237.6,413.9 239.0,413.9 239.0,415.8 241.1,416.0 241.4,412.7 241.7,415.5 243.2,415.5 243.2,414.9 244.9,414.9 244.9,415.7 245.5,415.7 245.5,416.9 245.9,416.9 245.9,418.9 246.6,418.9 246.6,420.8 247.0,420.8 247.0,421.5 248.4,421.5 248.4,420.9 249.3,420.9 249.3,420.0 250.3,420.0 250.3,418.2 251.1,418.2 251.1,419.2 252.6,419.2 252.6,421.0 252.9,418.5 253.2,420.6 253.6,420.6 253.6,421.8 254.0,421.8 254.0,419.5 255.3,419.5 255.3,419.0 256.0,419.0 256.0,417.6 256.4,417.6 256.4,415.2 256.9,415.2 256.9,416.8 257.2,418.5 258.1,418.5 258.1,420.0 258.4,422.3 259.6,422.0 261.1,422.0 261.1,420.2 261.4,419.0 261.7,420.7 262.3,420.7 262.3,419.4 263.6,419.4 263.6,418.7 264.5,418.7 264.5,420.6 265.7,420.6 265.7,422.5 266.9,422.5 266.9,420.4 267.3,420.4 267.3,419.3 267.6,416.5 267.9,418.8 268.5,418.8 268.5,417.6 269.2,417.6 269.2,418.4 269.5,416.9 269.8,418.6 270.0,420.8 270.5,420.8 270.5,421.9 271.6,421.9 271.6,420.1 272.8,420.2 274.3,420.2 274.3,418.4 275.6,418.4 275.6,418.9 276.6,418.9 276.6,421.0 276.9,422.9 277.2,420.7 277.8,420.7 277.8,422.0 279.2,422.0 279.2,420.7 279.5,418.5 279.8,421.1 280.0,419.7 281.1,419.7 281.1,417.9 282.3,417.9 282.3,416.6 282.8,416.6 282.8,418.0 283.3,418.0 283.3,419.4 283.6,417.8 283.9,419.3 284.0,421.3 284.2,422.4 285.1,422.4 285.1,421.9 286.5,421.9 286.5,420.6 287.6,420.6 287.6,418.6 288.9,418.6 288.9,417.7 289.9,417.7 289.9,417.0 290.9,417.0 290.9,419.3 291.1,420.0 291.9,420.0 291.9,422.4 292.8,422.4 292.8,420.8 293.1,422.7 293.4,421.0 293.8,421.0 293.8,420.0 295.2,420.0 295.2,418.7 296.1,418.7 296.1,417.7 296.4,414.9 296.7,417.7 297.0,416.8 297.9,416.8 297.9,418.6 298.0,419.2 298.9,419.2 298.9,421.5 300.4,421.3 301.8,421.3 301.8,419.3 302.1,417.6 302.4,420.2 303.1,419.9 304.5,419.9 304.5,418.4 305.6,418.4 305.6,420.0 305.9,417.6 306.2,419.6 306.1,420.6 306.9,420.6 306.9,422.5 307.7,422.5 307.7,420.1 308.4,420.1 308.4,419.2 309.5,419.2 309.5,417.2 310.2,417.2 310.2,419.0 310.5,416.5 310.8,418.9 310.6,419.7 311.5,419.7 311.5,421.8 312.6,421.8 312.6,420.2 312.9,418.8 313.2,420.4 314.0,420.4 314.0,418.7 314.9,418.7 314.9,417.9 316.0,417.9 316.0,419.2 317.0,419.2 317.0,420.8 317.7,420.8 317.7,422.2 318.8,422.2 318.8,421.4 319.7,421.4 319.7,419.6 320.0,417.3 320.3,420.1 320.8,420.1 320.8,418.5 321.7,418.5 321.7,420.5 322.5,420.5 322.5,422.3 323.9,422.0 325.6,421.9 327.0,422.3 328.4,422.3 328.7,420.4 329.0,422.3 330.0,422.6 330.8,422.6 330.8,420.9 331.8,420.9 331.8,420.3 332.9,420.3 332.9,418.7 333.2,416.5 333.5,418.9 334.0,418.9 334.0,418.0 335.2,418.0 335.2,419.2 335.5,421.5 335.8,418.9 335.8,420.7 337.2,420.7 337.2,421.1 337.5,419.9 337.8,421.5 338.0,422.6 339.6,423.0 339.9,420.8 340.2,423.0 341.2,423.1 342.8,423.0 344.4,423.0 344.4,422.3 345.5,422.3 347.2,422.2 348.9,422.3 350.3,422.3 350.3,423.0 352.0,423.0 352.0,422.6 352.8,422.6 352.8,421.5 354.1,421.5 354.1,419.9 355.0,419.9 355.0,418.0 356.0,418.0 356.0,420.2 357.2,420.5 358.0,420.5 358.0,422.6" fill="none" stroke="#000" stroke-width="2.0" stroke-linejoin="round" stroke-linecap="square"/>
<polyline points="34.0,422.6 35.5,421.0 36.5,419.4 37.3,418.3 38.5,417.2 39.6,419.8 40.3,420.7 41.2,422.3 43.0,421.0 45.4,419.9 47.0,419.9 48.5,422.3 47.7,421.2 45.8,420.2 45.0,418.0 45.4,416.7 46.1,416.1 47.0,414.4 47.5,412.5 48.3,409.8 49.4,410.3 50.2,408.6 51.0,406.4 51.1,405.0 52.2,403.5 52.9,401.7 54.0,399.8 55.0,398.0 55.4,396.8 56.3,394.8 56.6,393.2 57.7,392.5 58.3,390.0 58.6,387.6 58.7,386.3 59.4,385.9 59.9,384.2 60.1,382.4 60.4,379.0 60.4,378.5 60.8,376.9 61.0,375.0 61.2,374.2 60.9,371.7 61.7,369.1 61.1,369.1 61.9,365.7 61.3,365.7 61.9,363.4 62.0,362.2 62.2,359.0 61.8,358.9 62.6,357.3 62.3,354.7 62.3,352.4 62.8,351.2 62.7,350.1 62.6,348.7 62.9,346.1 63.0,345.0 63.5,342.8 63.1,341.3 63.6,340.8 63.7,338.1 64.0,337.0 64.4,334.8 64.5,333.1 65.1,331.3 64.8,329.8 65.1,329.0 65.6,327.4 65.8,324.3 66.2,322.9 66.0,321.5 66.5,320.0 67.3,318.2 67.2,317.7 68.1,315.1 67.8,314.4 68.7,311.9 69.1,310.4 69.1,309.3 69.8,307.5 70.0,306.0 70.1,303.3 69.7,302.3 69.2,301.6 69.1,298.4 69.6,298.2 69.4,295.2 69.3,293.0 68.8,292.0 69.0,291.2 68.6,287.9 69.0,287.7 69.1,286.1 68.9,283.2 68.6,281.3 69.3,279.2 68.7,278.1 68.6,276.3 69.0,275.0 68.9,272.6 69.3,271.8 69.4,270.6 69.5,269.4 69.3,266.3 69.4,264.9 70.1,264.5 70.0,262.0 70.3,259.7 70.4,258.8 70.7,257.6 71.5,255.3 71.5,254.4 71.7,251.4 72.4,251.3 71.9,249.2 72.6,247.0 72.6,244.5 72.6,243.1 73.1,241.5 72.7,239.9 73.4,238.9 73.4,237.2 73.1,234.7 73.5,234.0 73.3,231.5 73.2,231.0 73.2,229.1 73.4,227.2 73.1,226.8 73.3,224.2 73.2,222.7 73.0,222.0 72.8,220.5 73.0,218.0 73.4,217.1 73.0,214.7 73.8,212.7 73.3,211.9 73.5,210.0 73.5,209.1 73.8,205.7 74.2,204.6 74.3,203.3 74.7,201.7 74.5,200.0 74.4,197.3 74.6,196.0 74.7,195.0 74.6,192.2 74.7,191.2 74.8,190.4 74.6,187.6 74.8,186.0 74.6,184.9 74.8,183.2 75.3,180.4 75.5,179.2 75.2,177.5 75.8,175.7 75.5,174.0 75.5,172.0 75.9,170.8 75.5,168.6 75.5,168.3 76.0,167.0 76.2,164.8 76.1,163.2 76.2,161.8 75.7,160.2 75.9,157.5 76.4,155.4 76.1,154.5 76.4,153.4 76.6,152.5 76.3,150.0 76.5,147.4 76.6,145.8 76.9,145.6 76.4,142.6 76.8,142.0 77.1,140.0 76.5,138.6 76.5,137.1 77.1,135.3 77.0,133.0 77.5,131.4 77.7,129.9 77.5,127.7 77.5,125.2 77.5,125.1 77.7,123.1 78.3,121.5 78.3,119.0 78.3,117.1 78.6,116.0 79.0,114.6 79.6,112.2 79.8,111.6 79.6,109.9 80.2,108.2 80.6,105.2 80.5,103.8 81.0,102.0 81.2,99.4 81.7,98.6 81.6,97.3 81.6,94.5 82.1,92.9 82.1,90.9 82.4,90.0 82.0,88.1 82.4,87.7 82.5,85.0 82.3,83.1 82.4,82.9 82.1,80.3 82.5,79.3 82.4,77.5 82.7,76.4 82.2,74.1 82.8,72.5 82.1,71.3 82.0,68.5 82.4,67.1 82.5,66.5 82.2,64.9 82.5,63.2 82.3,61.1 82.0,59.5 82.7,58.8 82.0,55.5 82.2,55.2 82.3,52.5 82.3,51.7 82.5,49.8 82.5,48.8 82.4,45.9 82.5,44.5 82.0,43.5 81.9,41.1 82.2,40.3 82.0,39.7 82.6,37.2 82.4,35.2 82.7,33.2 82.2,31.8 82.6,30.8 82.2,29.0 82.6,27.1 82.3,26.0 83.7,24.7 84.5,22.3 85.7,20.8 85.8,22.4 86.0,24.5 86.2,25.6 86.7,27.6 86.7,30.2 86.9,30.9 87.4,33.8 87.5,34.4 87.6,36.8 87.7,38.0 87.4,40.2 87.9,41.9 87.5,43.2 87.4,44.5 87.4,46.9 87.5,48.3 87.0,50.4 88.3,50.8 89.2,53.7 90.3,54.8 91.6,56.0 91.3,57.4 91.9,58.6 91.8,59.9 91.5,63.0 91.4,64.0 91.6,65.4 91.4,67.7 91.5,69.3 91.3,70.0 91.4,72.2 91.3,74.7 90.9,75.9 91.0,77.4 91.5,78.1 91.1,80.2 91.1,81.1 91.1,84.2 91.0,85.0 91.5,86.2 92.0,88.0 91.9,90.0 92.6,91.5 93.0,93.0 93.5,94.9 93.6,96.1 93.6,97.3 93.4,100.2 93.9,102.2 93.8,102.8 94.0,105.0 95.2,103.7 96.3,102.1 98.0,101.0 98.2,102.0 98.0,105.1 98.6,105.6 98.1,107.0 98.1,110.1 98.7,110.7 98.6,113.3 98.3,115.2 99.1,115.7 98.9,118.0 99.3,120.1 99.2,122.2 99.3,123.1 99.6,124.7 100.2,126.7 100.3,129.3 100.4,130.0 100.2,131.1 100.5,132.7 100.8,134.8 100.4,136.7 100.7,139.3 100.5,139.5 100.3,142.3 100.2,144.4 100.7,144.8 100.4,147.0 100.4,148.1 100.8,149.4 101.0,151.1 101.2,153.8 101.1,154.5 101.2,157.0 100.9,158.4 101.7,160.7 101.7,161.3 101.2,163.0 101.7,165.0 101.5,167.7 101.9,168.7 101.8,170.4 101.9,172.3 101.8,173.8 102.0,176.0 102.2,177.2 102.3,179.0 103.1,180.5 103.0,183.4 103.6,184.4 104.0,186.0 104.3,188.6 105.1,189.8 105.5,191.8 105.8,193.0 106.3,195.0 107.3,197.0 108.4,199.0 108.4,200.8 108.5,203.0 108.9,203.6 108.2,205.4 108.3,208.1 108.8,208.8 108.5,211.7 109.1,213.0 109.0,214.9 108.9,215.9 109.0,218.6 109.0,219.5 109.5,222.1 109.5,222.1 109.1,225.6 109.5,226.4 109.4,228.8 109.7,230.8 109.4,232.5 109.5,232.6 110.0,235.0 110.1,236.9 110.1,238.5 111.0,239.9 111.1,241.9 111.2,242.7 111.3,245.8 111.7,246.1 111.7,248.4 112.0,250.0 112.0,251.8 112.4,252.4 112.3,255.3 112.4,255.8 113.0,258.0 113.4,260.1 112.8,261.9 113.1,264.0 113.7,265.5 113.3,265.7 114.1,267.6 114.0,270.0 113.8,270.7 113.9,273.3 114.6,274.6 114.1,277.3 114.1,278.6 114.5,280.9 114.1,281.8 114.4,284.0 114.4,285.4 114.4,286.7 115.1,287.8 114.8,290.0 116.5,289.8 118.5,288.0 118.8,288.8 118.5,290.9 118.8,293.8 119.3,295.8 119.4,296.8 119.3,298.6 119.5,299.0 119.7,301.4 119.9,302.4 120.0,305.0 119.8,307.6 120.3,308.0 120.4,310.2 121.2,311.0 121.1,313.3 121.5,315.1 121.3,316.0 122.0,317.5 122.0,320.0 122.6,320.7 122.4,323.3 123.3,325.2 123.5,327.2 123.8,327.4 124.0,330.0 124.4,331.0 123.9,332.6 123.9,336.0 124.4,337.0 124.8,337.8 125.1,340.9 126.1,342.7 126.2,342.7 126.9,344.5 127.3,346.2 128.3,347.7 128.7,350.0 128.4,351.7 128.6,352.6 128.8,355.0 128.6,356.5 128.3,358.5 128.5,359.6 128.3,362.3 128.8,363.0 128.7,365.7 128.4,366.2 128.9,367.9 128.9,370.6 128.3,371.0 128.5,373.6 128.9,375.1 129.0,375.7 128.7,378.0 130.8,378.2 133.0,377.0 134.2,377.7 135.0,380.0 135.8,382.1 136.2,383.1 136.4,385.9 137.1,386.8 137.6,389.3 137.7,390.0 138.1,392.1 138.4,393.0 138.1,395.6 138.0,397.9 138.1,399.4 138.6,401.0 139.2,402.3 140.3,403.7 141.0,406.7 142.3,407.2 142.6,409.7 143.5,411.0 144.6,412.9 145.9,413.5 147.3,413.6 148.3,414.8 150.0,417.0 151.2,417.6 153.1,419.4 154.1,420.2 155.9,422.2 157.1,421.8 158.7,420.6 160.4,419.9 162.7,421.5 164.4,421.2 166.0,419.3 167.0,418.3 168.6,417.5 169.5,419.4 170.6,420.8 171.6,421.9 172.8,421.7 174.6,420.5 176.1,421.5 177.7,419.6 178.7,418.2 179.4,417.4 181.1,416.3 181.3,418.6 182.1,420.3 182.6,421.8 184.4,419.5 185.1,418.0 186.8,417.4 187.8,420.1 189.0,421.4 190.5,420.0 191.7,418.4 193.5,419.7 194.8,421.5 196.2,420.6 197.8,418.5 199.9,417.8 200.5,418.3 201.6,420.3 203.0,421.5 204.0,420.5 205.8,418.8 206.7,418.0 207.6,419.5 209.2,421.1 210.1,421.6 211.5,420.4 213.1,419.3 214.1,417.7 215.6,418.6 216.5,420.8 217.4,421.9 219.0,420.1 220.5,419.8 222.1,419.4 223.5,420.6 224.8,421.9 226.2,419.3 227.6,418.5 229.1,420.2 231.2,421.5 233.0,421.9 234.8,419.8 236.2,419.5 237.7,420.7 239.3,421.9 240.9,420.4 242.3,419.3 243.3,418.0 244.1,419.8 245.0,421.7 246.2,421.3 247.6,418.9 248.5,420.4 250.1,422.3" fill="none" stroke="#000" stroke-width="2.1" stroke-linejoin="round" stroke-dasharray="7 4"/>
<polyline points="38.0,422.6 39.4,421.7 41.1,419.3 42.9,418.7 44.3,420.3 45.7,421.5 47.6,421.0 49.1,420.8 51.3,421.8 52.7,420.7 54.5,420.1 56.4,420.4 57.9,421.8 57.2,420.8 57.1,417.5 56.5,417.3 56.5,413.9 56.0,413.0 57.0,410.7 57.8,409.7 58.4,408.6 59.6,406.0 60.2,403.6 61.2,401.9 61.5,401.3 62.5,400.1 63.4,397.1 64.0,396.0 64.2,394.6 65.0,392.5 65.7,390.7 66.0,388.9 66.7,389.0 67.0,386.2 67.4,385.0 67.5,384.1 67.6,380.7 67.4,379.3 67.4,379.2 67.6,376.2 67.4,375.0 68.1,373.0 68.6,372.2 69.7,369.7 70.2,368.7 71.1,366.6 71.7,365.0 71.5,362.6 71.5,362.5 71.7,360.5 71.6,358.3 71.5,357.9 71.8,354.7 71.8,354.0 71.8,352.7 71.8,351.4 71.7,349.0 72.6,347.0 73.1,345.1 73.6,343.3 74.4,341.5 75.0,340.0 74.9,339.0 75.2,337.1 75.2,334.8 75.1,332.9 74.9,331.0 75.2,331.0 75.0,328.2 74.9,326.1 75.2,326.0 74.9,323.0 75.3,321.3 75.4,319.9 75.1,318.0 75.0,316.8 75.0,315.8 74.9,313.9 75.2,312.0 75.5,309.9 75.2,307.8 75.3,307.4 75.7,304.2 75.7,303.6 75.8,300.8 76.0,300.0 76.4,298.0 77.2,296.3 77.6,295.6 77.8,292.5 78.4,290.7 78.7,289.0 78.8,287.9 79.3,287.4 80.0,285.5 80.4,283.0 80.7,281.9 80.5,279.7 80.6,278.4 80.2,276.5 80.3,274.8 80.5,273.6 80.4,272.1 80.6,269.1 80.2,267.4 80.2,267.6 80.4,265.0 80.4,263.2 80.6,261.8 80.5,260.6 80.7,259.0 81.0,255.7 81.0,254.2 81.3,252.5 81.0,252.2 81.3,250.3 81.3,248.4 81.2,246.6 81.5,245.0 81.5,243.7 81.5,240.9 81.6,240.0 81.9,237.2 82.3,237.2 82.0,234.1 82.4,234.1 82.1,231.9 82.6,230.6 82.5,228.0 82.6,225.6 82.8,224.1 83.5,223.8 83.5,220.6 83.7,219.1 84.0,218.0 85.6,216.0 85.7,214.8 85.8,212.5 85.6,210.9 85.5,209.2 85.7,208.1 85.5,206.1 85.4,203.4 85.5,202.4 85.3,200.2 85.6,200.2 85.8,196.7 85.5,195.7 85.5,193.6 85.7,193.3 85.5,190.4 85.4,188.4 85.8,187.1 85.7,186.6 85.4,183.7 85.5,183.2 85.6,181.0 85.9,179.0 85.9,177.5 86.1,176.7 86.2,175.1 86.7,173.1 86.9,172.1 86.6,170.6 87.0,168.0 86.8,167.0 86.8,164.3 87.0,163.8 87.1,160.9 87.2,160.5 87.0,157.3 86.9,156.1 87.0,155.8 87.1,153.9 86.7,151.1 87.0,150.0 87.5,148.0 87.5,145.8 87.7,144.8 88.4,143.1 88.7,141.2 89.0,140.0 88.7,138.5 88.9,136.3 88.9,134.0 88.7,132.3 88.9,130.1 89.0,129.0 89.0,127.2 89.2,126.3 89.7,123.6 90.0,121.0 90.0,120.8 90.5,118.5 90.7,117.3 91.0,115.0 91.0,113.9 91.2,112.5 91.1,110.3 91.0,108.4 91.0,106.7 91.2,105.7 90.7,103.8 91.1,101.9 91.0,100.0 91.3,97.3 91.1,96.3 91.5,94.1 91.3,92.3 91.5,91.2 91.5,89.1 91.7,86.8 91.5,86.0 92.8,85.5 94.5,84.0 94.7,82.8 94.4,79.7 94.6,79.2 94.2,77.9 94.5,74.3 94.5,73.2 94.3,72.5 94.5,70.0 96.5,68.7 98.0,69.0 98.0,66.9 98.1,64.9 98.0,64.0 100.5,63.0 100.4,61.2 100.5,59.6 100.6,59.0 100.8,57.3 100.7,54.3 100.3,53.2 100.6,51.8 100.5,50.0 102.0,49.0 102.8,50.0 102.7,52.6 102.7,52.3 102.6,54.3 102.9,57.3 102.5,57.7 102.6,60.4 103.0,61.0 102.6,64.1 103.1,65.2 102.8,66.9 103.0,68.1 102.7,69.8 102.9,71.0 102.9,72.3 103.1,74.1 102.6,77.2 103.1,78.8 103.0,80.3 103.0,81.3 102.5,83.3 103.0,85.2 102.5,85.3 102.9,87.8 103.0,90.4 102.8,91.4 102.9,93.1 102.7,94.6 102.8,96.0 104.1,97.6 106.0,98.2 107.4,97.8 108.9,99.6 110.5,100.0 110.5,100.9 110.2,103.1 110.3,104.4 110.3,106.4 110.6,109.0 110.6,108.9 110.7,111.7 110.6,113.3 110.4,114.4 110.2,116.7 110.2,118.4 110.7,120.0 110.6,121.9 110.8,123.5 110.8,124.5 110.2,126.4 110.6,128.5 110.6,129.2 110.2,131.8 110.6,133.7 110.6,135.1 110.7,137.0 110.5,138.4 110.4,138.3 110.4,140.6 110.8,142.3 110.4,144.6 110.3,145.4 110.4,146.7 110.6,148.9 110.7,150.4 110.8,151.8 110.5,154.0 112.1,154.5 113.3,155.6 115.4,156.6 116.7,158.0 116.7,159.7 116.6,161.4 116.4,162.7 116.6,165.2 116.9,166.7 116.8,168.7 116.8,168.7 116.5,171.7 116.9,173.9 116.9,173.9 116.7,176.4 116.8,177.1 117.0,179.5 116.6,182.1 116.6,181.9 116.8,184.0 116.5,185.7 116.8,187.4 116.8,190.2 117.0,191.9 117.0,192.2 116.9,193.6 116.7,195.2 116.5,198.6 116.5,199.8 116.7,201.0 118.1,201.3 119.7,202.8 121.0,205.0 121.3,207.3 121.1,208.2 120.8,210.4 120.8,211.7 121.4,213.7 120.9,215.4 121.3,216.3 121.4,218.5 121.2,220.1 121.1,221.2 121.5,223.0 121.5,224.7 121.2,225.7 121.7,228.8 121.7,230.2 121.2,231.0 121.2,233.6 121.5,235.0 121.9,237.6 121.9,237.8 122.2,239.3 122.3,241.7 122.8,243.1 123.4,244.6 123.6,246.7 123.5,247.4 124.0,250.0 124.6,252.2 124.9,253.4 125.5,254.9 126.4,256.5 126.7,256.8 127.7,259.8 128.2,260.6 128.5,262.0 128.4,263.4 129.0,264.4 128.8,266.0 129.3,268.3 129.0,269.9 129.2,271.7 129.6,273.8 129.4,275.2 129.5,276.7 130.1,278.0 130.3,279.6 130.2,282.3 130.1,283.5 130.5,285.0 130.6,287.1 131.0,288.7 130.6,289.4 130.9,291.2 131.0,292.5 131.2,294.8 130.9,295.9 131.6,299.0 131.4,300.0 132.0,301.4 132.4,302.5 132.6,305.7 132.6,305.4 132.9,307.2 133.6,309.8 133.8,310.4 134.2,312.1 134.2,314.6 134.8,316.0 134.9,318.4 135.0,318.8 134.7,320.5 134.8,322.1 135.0,325.1 135.0,326.5 135.0,328.9 134.8,330.0 136.0,332.3 136.6,333.0 137.7,335.0 137.4,337.2 137.7,339.3 137.6,339.9 137.9,342.6 137.9,344.1 138.0,344.5 137.8,345.8 137.8,349.2 137.7,349.3 137.7,350.8 137.7,352.5 137.7,355.6 137.8,357.4 137.7,358.2 137.7,360.0 139.0,361.6 140.9,361.8 142.4,363.0 142.2,364.8 142.1,365.9 142.1,368.3 142.2,371.0 142.5,372.9 142.4,374.0 142.8,374.9 142.9,377.9 143.4,379.1 143.8,379.5 144.0,382.0 143.8,383.6 144.2,386.3 144.1,386.7 143.7,389.0 143.9,391.4 143.8,391.7 144.0,394.0 145.7,393.7 148.2,396.1 150.0,396.0 153.0,396.0 153.0,396.8 153.5,399.0 153.8,402.1 154.1,402.6 154.3,404.3 154.7,406.0 155.0,408.6 155.0,410.0 156.2,411.1 157.3,413.0 157.9,414.5 158.9,414.8 160.0,417.0 161.7,416.8 164.0,416.1 164.6,417.2 165.7,419.2 166.2,421.8 168.0,419.7 169.4,418.5 170.9,420.9 172.6,421.5 174.7,421.3 176.6,419.9 178.2,418.8 179.8,420.7 180.9,422.2 182.0,420.6 182.8,419.8 183.9,418.4 185.4,420.3 187.2,421.6 188.6,420.7 189.5,418.0 190.8,417.6 192.1,416.4 193.1,418.5 193.5,420.6 194.2,422.4 195.6,421.8 197.0,420.6 198.3,419.5 199.1,420.1 200.3,422.1 201.8,421.7 203.7,419.4 204.9,418.6 206.1,420.1 207.1,421.6 208.6,420.3 210.3,419.4 211.4,419.1 213.0,418.9 213.7,420.1 214.7,422.6 216.3,422.0 218.2,421.6 220.3,420.7 221.8,421.5 223.2,421.9 224.4,420.8 225.5,419.1 226.8,417.8 227.5,418.7 228.0,421.0 228.4,422.4 230.7,421.9 232.5,420.8 234.1,422.1 235.7,422.3 237.1,421.3 238.7,420.8 241.5,422.1 243.0,421.4 244.8,419.1 246.2,418.6 248.1,421.0 249.4,421.4 251.0,422.1 252.8,420.5 254.3,420.4 255.3,420.4 256.8,422.4" fill="none" stroke="#000" stroke-width="2.2" stroke-linejoin="round" stroke-dasharray="2 2"/>
<line x1="101.2" y1="51.0" x2="103.9" y2="51.0" stroke="#000" stroke-width="1.7" />
<line x1="101.2" y1="54.4" x2="103.9" y2="54.4" stroke="#000" stroke-width="1.7" />
<line x1="101.2" y1="57.8" x2="103.9" y2="57.8" stroke="#000" stroke-width="1.7" />
<line x1="101.2" y1="61.2" x2="103.9" y2="61.2" stroke="#000" stroke-width="1.7" />
<line x1="98.0" y1="64.4" x2="100.4" y2="64.4" stroke="#000" stroke-width="1.7" />
<line x1="101.2" y1="64.4" x2="103.9" y2="64.4" stroke="#000" stroke-width="1.7" />
<line x1="98.0" y1="67.8" x2="100.4" y2="67.8" stroke="#000" stroke-width="1.7" />
<line x1="101.2" y1="67.8" x2="103.9" y2="67.8" stroke="#000" stroke-width="1.7" />
<line x1="94.6" y1="71.2" x2="96.6" y2="71.2" stroke="#000" stroke-width="1.7" />
<line x1="98.0" y1="71.2" x2="100.4" y2="71.2" stroke="#000" stroke-width="1.7" />
<line x1="101.2" y1="71.2" x2="103.9" y2="71.2" stroke="#000" stroke-width="1.7" />
<line x1="94.6" y1="74.6" x2="96.6" y2="74.6" stroke="#000" stroke-width="1.7" />
<line x1="98.0" y1="74.6" x2="100.4" y2="74.6" stroke="#000" stroke-width="1.7" />
<line x1="101.2" y1="74.6" x2="103.9" y2="74.6" stroke="#000" stroke-width="1.7" />
<line x1="94.6" y1="78.0" x2="96.6" y2="78.0" stroke="#000" stroke-width="1.7" />
<line x1="98.0" y1="78.0" x2="100.4" y2="78.0" stroke="#000" stroke-width="1.7" />
<line x1="101.2" y1="78.0" x2="103.9" y2="78.0" stroke="#000" stroke-width="1.7" />
<line x1="94.6" y1="81.4" x2="96.6" y2="81.4" stroke="#000" stroke-width="1.7" />
<line x1="98.0" y1="81.4" x2="100.4" y2="81.4" stroke="#000" stroke-width="1.7" />
<line x1="101.2" y1="81.4" x2="103.9" y2="81.4" stroke="#000" stroke-width="1.7" />
<line x1="94.6" y1="84.8" x2="96.6" y2="84.8" stroke="#000" stroke-width="1.7" />
<line x1="98.0" y1="84.8" x2="100.4" y2="84.8" stroke="#000" stroke-width="1.7" />
<line x1="101.2" y1="84.8" x2="103.9" y2="84.8" stroke="#000" stroke-width="1.7" />
<line x1="91.2" y1="88.0" x2="93.4" y2="88.0" stroke="#000" stroke-width="1.7" />
<line x1="94.6" y1="88.0" x2="96.6" y2="88.0" stroke="#000" stroke-width="1.7" />
<line x1="98.0" y1="88.0" x2="100.4" y2="88.0" stroke="#000" stroke-width="1.7" />
<line x1="101.2" y1="88.0" x2="103.9" y2="88.0" stroke="#000" stroke-width="1.7" />
<line x1="91.2" y1="91.4" x2="93.4" y2="91.4" stroke="#000" stroke-width="1.7" />
<line x1="94.6" y1="91.4" x2="96.6" y2="91.4" stroke="#000" stroke-width="1.7" />
<line x1="98.0" y1="91.4" x2="100.4" y2="91.4" stroke="#000" stroke-width="1.7" />
<line x1="101.2" y1="91.4" x2="103.9" y2="91.4" stroke="#000" stroke-width="1.7" />
<line x1="91.2" y1="94.8" x2="93.4" y2="94.8" stroke="#000" stroke-width="1.7" />
<line x1="94.6" y1="94.8" x2="96.6" y2="94.8" stroke="#000" stroke-width="1.7" />
<line x1="98.0" y1="94.8" x2="100.4" y2="94.8" stroke="#000" stroke-width="1.7" />
<line x1="101.2" y1="94.8" x2="103.9" y2="94.8" stroke="#000" stroke-width="1.7" />
<line x1="91.2" y1="98.2" x2="93.4" y2="98.2" stroke="#000" stroke-width="1.7" />
<line x1="94.6" y1="98.2" x2="96.6" y2="98.2" stroke="#000" stroke-width="1.7" />
<line x1="98.0" y1="98.2" x2="100.4" y2="98.2" stroke="#000" stroke-width="1.7" />
<line x1="101.2" y1="98.2" x2="103.9" y2="98.2" stroke="#000" stroke-width="1.7" />
<line x1="137.8" y1="357.8" x2="142.6" y2="357.8" stroke="#000" stroke-width="1.6" />
<line x1="137.8" y1="361.2" x2="142.6" y2="361.2" stroke="#000" stroke-width="1.6" />
<line x1="82.6" y1="182.0" x2="85.2" y2="182.0" stroke="#000" stroke-width="1.6" />
<line x1="82.6" y1="185.4" x2="85.2" y2="185.4" stroke="#000" stroke-width="1.6" />
<line x1="82.6" y1="188.8" x2="85.2" y2="188.8" stroke="#000" stroke-width="1.6" />
<line x1="82.6" y1="192.2" x2="85.2" y2="192.2" stroke="#000" stroke-width="1.6" />
<line x1="82.6" y1="195.6" x2="85.2" y2="195.6" stroke="#000" stroke-width="1.6" />
<line x1="82.6" y1="199.0" x2="85.2" y2="199.0" stroke="#000" stroke-width="1.6" />
<line x1="82.6" y1="202.4" x2="85.2" y2="202.4" stroke="#000" stroke-width="1.6" />
<line x1="82.6" y1="205.8" x2="85.2" y2="205.8" stroke="#000" stroke-width="1.6" />
<line x1="82.6" y1="209.2" x2="85.2" y2="209.2" stroke="#000" stroke-width="1.6" />
<line x1="82.6" y1="212.6" x2="85.2" y2="212.6" stroke="#000" stroke-width="1.6" />
<line x1="145.0" y1="394.5" x2="149.0" y2="394.5" stroke="#000" stroke-width="1.6" />
<line x1="150.5" y1="394.5" x2="154.0" y2="394.5" stroke="#000" stroke-width="1.6" />
<line x1="145.0" y1="397.9" x2="149.0" y2="397.9" stroke="#000" stroke-width="1.6" />
<line x1="150.5" y1="397.9" x2="154.0" y2="397.9" stroke="#000" stroke-width="1.6" />
<line x1="145.0" y1="401.3" x2="149.0" y2="401.3" stroke="#000" stroke-width="1.6" />
<line x1="150.5" y1="401.3" x2="154.0" y2="401.3" stroke="#000" stroke-width="1.6" />
<line x1="101.0" y1="110.0" x2="112.0" y2="110.0" stroke="#000" stroke-width="1.6" stroke-dasharray="2.5 1.2"/>
<line x1="101.0" y1="113.5" x2="112.0" y2="113.5" stroke="#000" stroke-width="1.6" stroke-dasharray="2.5 1.2"/>
<line x1="101.0" y1="117.0" x2="112.0" y2="117.0" stroke="#000" stroke-width="1.6" stroke-dasharray="2.5 1.2"/>
<line x1="101.0" y1="120.5" x2="112.0" y2="120.5" stroke="#000" stroke-width="1.6" stroke-dasharray="2.5 1.2"/>
<line x1="101.0" y1="124.0" x2="112.0" y2="124.0" stroke="#000" stroke-width="1.6" stroke-dasharray="2.5 1.2"/>
<line x1="113.6" y1="157.0" x2="117.4" y2="157.0" stroke="#000" stroke-width="1.6" stroke-dasharray="2.5 1.2"/>
<line x1="113.6" y1="160.5" x2="117.4" y2="160.5" stroke="#000" stroke-width="1.6" stroke-dasharray="2.5 1.2"/>
<line x1="113.6" y1="164.0" x2="117.4" y2="164.0" stroke="#000" stroke-width="1.6" stroke-dasharray="2.5 1.2"/>
<line x1="121.0" y1="235.0" x2="125.0" y2="235.0" stroke="#000" stroke-width="1.6" stroke-dasharray="2.5 1.2"/>
<line x1="121.0" y1="238.5" x2="125.0" y2="238.5" stroke="#000" stroke-width="1.6" stroke-dasharray="2.5 1.2"/>
<line x1="121.0" y1="242.0" x2="125.0" y2="242.0" stroke="#000" stroke-width="1.6" stroke-dasharray="2.5 1.2"/>
<line x1="121.0" y1="245.5" x2="125.0" y2="245.5" stroke="#000" stroke-width="1.6" stroke-dasharray="2.5 1.2"/>
<line x1="121.0" y1="249.0" x2="125.0" y2="249.0" stroke="#000" stroke-width="1.6" stroke-dasharray="2.5 1.2"/>
<line x1="121.0" y1="252.5" x2="125.0" y2="252.5" stroke="#000" stroke-width="1.6" stroke-dasharray="2.5 1.2"/>
<line x1="121.0" y1="256.0" x2="125.0" y2="256.0" stroke="#000" stroke-width="1.6" stroke-dasharray="2.5 1.2"/>
<line x1="124.4" y1="257.0" x2="131.4" y2="257.0" stroke="#000" stroke-width="1.6" stroke-dasharray="2.5 1.2"/>
<line x1="124.4" y1="260.5" x2="131.4" y2="260.5" stroke="#000" stroke-width="1.6" stroke-dasharray="2.5 1.2"/>
<line x1="124.4" y1="264.0" x2="131.4" y2="264.0" stroke="#000" stroke-width="1.6" stroke-dasharray="2.5 1.2"/>
<line x1="124.4" y1="267.5" x2="131.4" y2="267.5" stroke="#000" stroke-width="1.6" stroke-dasharray="2.5 1.2"/>
<line x1="124.4" y1="271.0" x2="131.4" y2="271.0" stroke="#000" stroke-width="1.6" stroke-dasharray="2.5 1.2"/>
<line x1="124.4" y1="274.5" x2="131.4" y2="274.5" stroke="#000" stroke-width="1.6" stroke-dasharray="2.5 1.2"/>
<line x1="124.4" y1="278.0" x2="131.4" y2="278.0" stroke="#000" stroke-width="1.6" stroke-dasharray="2.5 1.2"/>
</svg></body></html>
